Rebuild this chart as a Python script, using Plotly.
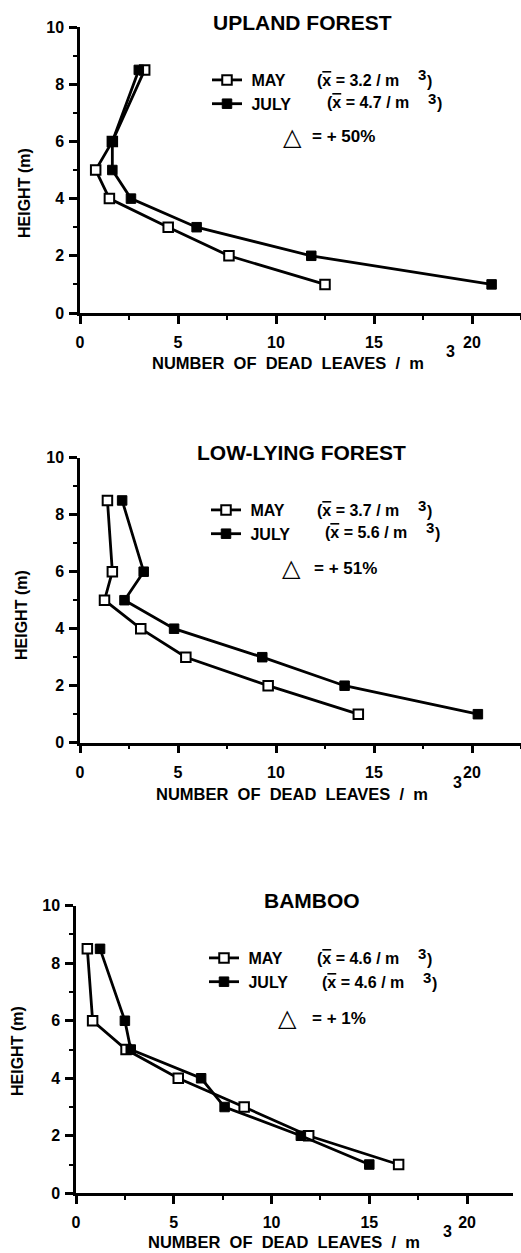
import plotly.graph_objects as go

# ---------------- data ----------------
heights = [8.5, 6, 5, 4, 3, 2, 1]

upland_may = [3.3, 1.65, 0.8, 1.5, 4.5, 7.6, 12.5]
upland_july = [3.0, 1.65, 1.65, 2.6, 5.95, 11.8, 21.0]

low_may = [1.4, 1.65, 1.25, 3.1, 5.4, 9.6, 14.2]
low_july = [2.15, 3.25, 2.27, 4.8, 9.3, 13.5, 20.3]

bamboo_may = [0.58, 0.85, 2.56, 5.23, 8.6, 11.9, 16.5]
bamboo_july = [1.23, 2.5, 2.8, 6.4, 7.6, 11.5, 15.0]

panel_titles = ["UPLAND FOREST", "LOW-LYING FOREST", "BAMBOO"]
may_means = ["3.2", "3.7", "4.6"]
july_means = ["4.7", "5.6", "4.6"]
deltas = ["+ 50%", "+ 51%", "+ 1%"]
series_names = ["MAY", "JULY"]
x_ticks = [0, 5, 10, 15, 20]
y_ticks = [0, 2, 4, 6, 8, 10]

W, H = 521, 1253
FONT = "Liberation Sans, Arial, Helvetica, sans-serif"


def px(x):
    return x / W


def py(y):
    return 1 - y / H


fig = go.Figure()

panels = [
    dict(may=upland_may, july=upland_july, xd=(80, 521), yd=(27, 313), xmax=22.5,
         title=(302, 22), ytitle=(24, 193), xtitle=(288, 363), sup=(450, 351),
         leg=(207, 63), formula_x=(315, 325), rows=(80, 103), delta=(292, 137), dtext=310),
    dict(may=low_may, july=low_july, xd=(80, 521), yd=(457.7, 742.7), xmax=22.5,
         title=(301, 452), ytitle=(22, 615), xtitle=(292, 794), sup=(457, 782),
         leg=(206, 493), formula_x=(315, 323), rows=(510, 532), delta=(291, 568), dtext=312),
    dict(may=bamboo_may, july=bamboo_july, xd=(76, 513), yd=(905.7, 1193.3), xmax=22.35,
         title=(312, 900), ytitle=(17, 1051), xtitle=(284, 1242), sup=(447, 1231),
         leg=(204, 941), formula_x=(315, 320), rows=(958, 982), delta=(287, 1018), dtext=310),
]

annotations = []
layout_axes = {}
for i, p in enumerate(panels):
    n = "" if i == 0 else str(i + 1)
    xa, ya = "x" + n, "y" + n
    legend_name = "legend" + n
    fig.add_trace(go.Scatter(
        x=p["may"], y=heights, xaxis=xa, yaxis=ya, mode="lines+markers",
        name="\u00a0" + series_names[0], legend=legend_name,
        line=dict(color="black", width=2.8),
        marker=dict(symbol="square", size=9.5, color="white", line=dict(color="black", width=2)),
    ))
    fig.add_trace(go.Scatter(
        x=p["july"], y=heights, xaxis=xa, yaxis=ya, mode="lines+markers",
        name="\u00a0" + series_names[1], legend=legend_name,
        line=dict(color="black", width=2.8),
        marker=dict(symbol="square", size=9.5, color="black", line=dict(color="black", width=1)),
    ))

    axis_common = dict(
        showgrid=False, zeroline=False, showline=True, linecolor="black", linewidth=2.5,
        ticks="outside", tickwidth=2.5, tickcolor="black", automargin=False,
        tickfont=dict(family=FONT, size=16, color="black", weight=700),
    )
    layout_axes["xaxis" + n] = dict(
        axis_common, domain=[px(p["xd"][0]), px(p["xd"][1])], range=[0, p["xmax"]],
        anchor=ya, tickvals=x_ticks, ticklen=8, ticklabelstandoff=5,
        minor=dict(ticks="outside", dtick=2.5, ticklen=4, tickwidth=2, tickcolor="black"),
    )
    layout_axes["yaxis" + n] = dict(
        axis_common, domain=[py(p["yd"][1]), py(p["yd"][0])], range=[0, 10],
        anchor=xa, tickvals=y_ticks, ticklen=8, ticklabelstandoff=2,
        minor=dict(ticks="outside", dtick=1, ticklen=4, tickwidth=2, tickcolor="black"),
    )
    layout_axes[legend_name] = dict(
        x=px(p["leg"][0]), y=py(p["leg"][1]), xanchor="left", yanchor="top",
        bgcolor="rgba(0,0,0,0)", borderwidth=0,
        font=dict(family=FONT, size=16, color="black", weight=700),
        itemwidth=30, tracegroupgap=0,
    )

    def ann(text, x, y, size, xanchor="center", weight=700, textangle=0, family=FONT):
        annotations.append(dict(
            text=text, x=px(x), y=py(y), xref="paper", yref="paper",
            xanchor=xanchor, yanchor="middle", showarrow=False, textangle=textangle,
            font=dict(family=family, size=size, color="black", weight=weight),
        ))

    ann(panel_titles[i], *p["title"], 21)
    ann("HEIGHT (m)", *p["ytitle"], 16, textangle=-90)
    ann("NUMBER\u00a0 OF\u00a0 DEAD\u00a0 LEAVES\u00a0 /\u00a0 m", *p["xtitle"], 16.5)
    ann("3", *p["sup"], 16)
    for mean, fx, ry in ((may_means[i], p["formula_x"][0], p["rows"][0]),
                         (july_means[i], p["formula_x"][1], p["rows"][1])):
        ann("(<span style='text-decoration:overline'>x</span> = " + mean + " / m", fx, ry, 16,
            xanchor="left")
        ann("3", fx + 101, ry - 5, 15, xanchor="left")
        ann(")", fx + 110, ry + 1, 16, xanchor="left")
    ann("\u25b3", *p["delta"], 24, family="DejaVu Sans", weight=400)
    ann("= " + deltas[i], p["dtext"], p["delta"][1], 17, xanchor="left")

fig.update_layout(
    width=W, height=H, margin=dict(l=0, r=0, t=0, b=0, autoexpand=False),
    paper_bgcolor="white", plot_bgcolor="white",
    annotations=annotations, showlegend=True,
    **layout_axes,
)

fig.write_html("out.html")
